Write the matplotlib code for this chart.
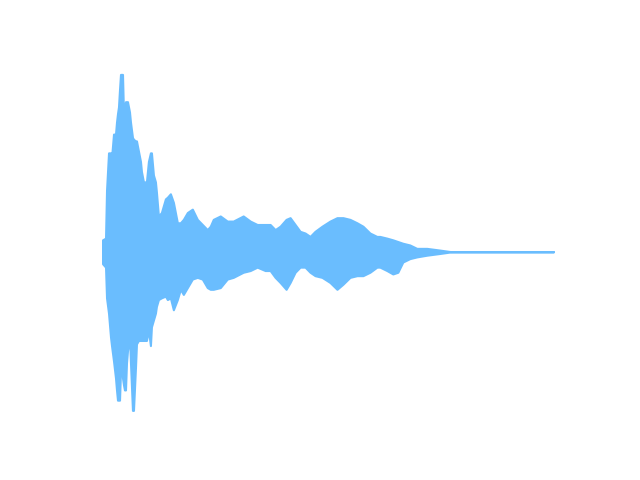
import numpy as np
import matplotlib
matplotlib.use("Agg")
import matplotlib.pyplot as plt

# envelope of the waveform (time in s, amplitude normalised)
time_s = [0.00, 0.03, 0.04, 0.06, 0.08, 0.09, 0.11, 0.13, 0.14, 0.15,
          0.16, 0.17, 0.18, 0.19, 0.20, 0.21, 0.22, 0.23, 0.24, 0.25,
          0.27, 0.28, 0.30, 0.31, 0.33, 0.34, 0.36, 0.38, 0.39, 0.41,
          0.44, 0.46, 0.48, 0.49, 0.51, 0.53, 0.54, 0.56, 0.59, 0.63,
          0.65, 0.68, 0.71, 0.75, 0.78, 0.81, 0.85, 0.90, 0.95, 1.00,
          1.05, 1.08, 1.11, 1.18, 1.25, 1.31, 1.41, 1.48, 1.55, 1.63,
          1.68, 1.73, 1.78, 1.84, 1.88, 1.93, 1.98, 2.03, 2.08, 2.13,
          2.20, 2.28, 2.35, 2.41, 2.48, 2.55, 2.61, 2.68, 2.75, 2.78,
          2.85, 2.91, 2.96, 3.01, 3.08, 3.15, 3.25, 3.38, 3.50, 4.52]
upper = [0.07, 0.08, 0.36, 0.58, 0.58, 0.55, 0.69, 0.69, 0.76, 0.81,
         0.85, 0.95, 1.04, 1.04, 1.04, 0.81, 0.85, 0.88, 0.88, 0.88,
         0.82, 0.76, 0.67, 0.66, 0.65, 0.65, 0.59, 0.53, 0.47, 0.41,
         0.41, 0.53, 0.58, 0.58, 0.45, 0.41, 0.35, 0.21, 0.23, 0.31,
         0.32, 0.34, 0.29, 0.17, 0.17, 0.19, 0.23, 0.25, 0.19, 0.16,
         0.13, 0.15, 0.19, 0.21, 0.18, 0.18, 0.21, 0.18, 0.16, 0.16,
         0.16, 0.13, 0.15, 0.19, 0.20, 0.16, 0.12, 0.11, 0.09, 0.12,
         0.15, 0.18, 0.20, 0.20, 0.19, 0.17, 0.15, 0.11, 0.09, 0.09,
         0.08, 0.07, 0.06, 0.05, 0.04, 0.02, 0.02, 0.01, 0.00, 0.00]
lower = [-0.07, -0.09, -0.27, -0.36, -0.50, -0.55, -0.64, -0.74, -0.81, -0.87,
         -0.87, -0.87, -0.70, -0.64, -0.74, -0.78, -0.81, -0.81, -0.65, -0.58,
         -0.50, -0.65, -0.93, -0.93, -0.68, -0.54, -0.52, -0.52, -0.52, -0.52,
         -0.52, -0.46, -0.55, -0.44, -0.40, -0.36, -0.32, -0.28, -0.27, -0.26,
         -0.28, -0.27, -0.34, -0.28, -0.22, -0.25, -0.21, -0.16, -0.15, -0.16,
         -0.21, -0.22, -0.22, -0.21, -0.16, -0.15, -0.12, -0.11, -0.09, -0.11,
         -0.11, -0.15, -0.18, -0.22, -0.18, -0.12, -0.09, -0.09, -0.12, -0.14,
         -0.15, -0.18, -0.22, -0.19, -0.15, -0.14, -0.14, -0.12, -0.09, -0.09,
         -0.11, -0.13, -0.12, -0.06, -0.04, -0.03, -0.02, -0.01, 0.00, 0.00]

colour = "#6abdfe"

fig, ax = plt.subplots(figsize=(6.4, 4.8), dpi=100)
ax.fill_between(time_s, lower, upper, color=colour, edgecolor=colour, linewidth=1.5)
ax.axis("off")

plt.savefig("out.png", dpi=100)
